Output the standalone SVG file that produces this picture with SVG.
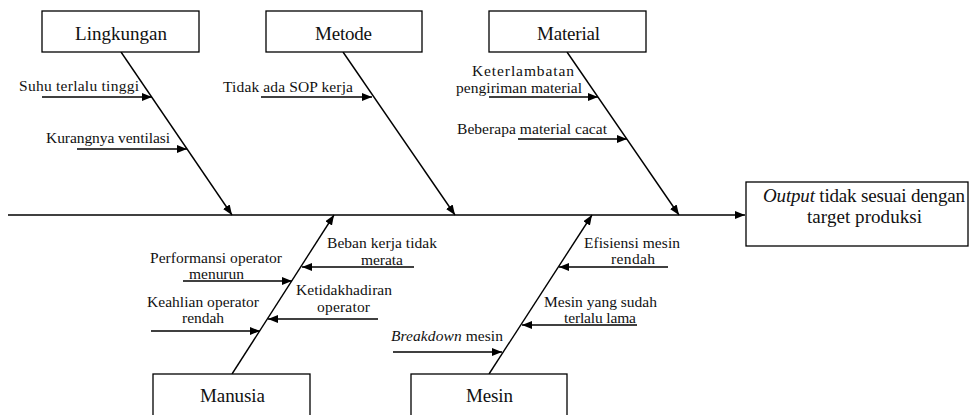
<svg xmlns="http://www.w3.org/2000/svg" width="970" height="415" viewBox="0 0 970 415">
<style>
.box{fill:#fff;stroke:#000;stroke-width:1.3}
.ln{stroke:#000;stroke-width:1.4;fill:none;marker-end:url(#ah)}
text{font-family:"Liberation Serif","Times New Roman",serif;fill:#111}
.lb{font-size:19px}
.sm{font-size:15.5px}
.it{font-style:italic}
</style>
<defs>
<marker id="ah" markerUnits="userSpaceOnUse" markerWidth="11" markerHeight="9" refX="10" refY="4" orient="auto"><path d="M0,0 L10,4 L0,8 z" fill="#000"/></marker>
</defs>
<rect width="970" height="415" fill="#fff"/>
<g id="connectors">
<line class="ln" x1="8" y1="215" x2="745" y2="215"/>
<line class="ln" x1="121" y1="52" x2="232" y2="215"/>
<line class="ln" x1="343" y1="52" x2="455" y2="215"/>
<line class="ln" x1="567" y1="52" x2="679" y2="215"/>
<line class="ln" x1="232" y1="374" x2="334" y2="215"/>
<line class="ln" x1="489" y1="374" x2="592" y2="215"/>
<line class="ln" x1="42" y1="97" x2="152" y2="97"/>
<line class="ln" x1="77" y1="149" x2="187" y2="149"/>
<line class="ln" x1="261" y1="97" x2="372" y2="97"/>
<line class="ln" x1="489" y1="97" x2="598" y2="97"/>
<line class="ln" x1="518" y1="139" x2="627" y2="139"/>
<line class="ln" x1="183" y1="281" x2="292" y2="281"/>
<line class="ln" x1="151" y1="331" x2="260" y2="331"/>
<line class="ln" x1="414" y1="267" x2="302" y2="267"/>
<line class="ln" x1="378" y1="319" x2="268" y2="319"/>
<line class="ln" x1="393" y1="352" x2="502" y2="352"/>
<line class="ln" x1="668" y1="267" x2="559" y2="267"/>
<line class="ln" x1="637" y1="325" x2="522" y2="325"/>
</g>
<g id="lingkungan">
<rect class="box" x="42" y="11" width="157" height="41"/>
<text class="lb" x="75" y="40" textLength="92">Lingkungan</text>
<text class="sm" x="19" y="91" textLength="120">Suhu terlalu tinggi</text>
<text class="sm" x="46" y="143" textLength="124">Kurangnya ventilasi</text>
</g>
<g id="metode">
<rect class="box" x="266" y="11" width="156" height="41"/>
<text class="lb" x="315" y="40" textLength="57">Metode</text>
<text class="sm" x="223" y="92" textLength="130">Tidak ada SOP kerja</text>
</g>
<g id="material">
<rect class="box" x="489" y="11" width="157" height="41"/>
<text class="lb" x="537" y="40" textLength="63">Material</text>
<text class="sm" x="472" y="76" textLength="102">Keterlambatan</text>
<text class="sm" x="456" y="93" textLength="126">pengiriman material</text>
<text class="sm" x="457" y="134" textLength="150">Beberapa material cacat</text>
</g>
<g id="manusia">
<rect class="box" x="153" y="374" width="157" height="50"/>
<text class="lb" x="200" y="402" textLength="65">Manusia</text>
<text class="sm" x="150" y="263" textLength="132">Performansi operator</text>
<text class="sm" x="189" y="279" textLength="55">menurun</text>
<text class="sm" x="147" y="307" textLength="112">Keahlian operator</text>
<text class="sm" x="182" y="323" textLength="42">rendah</text>
<text class="sm" x="327" y="248" textLength="110">Beban kerja tidak</text>
<text class="sm" x="361" y="265" textLength="42">merata</text>
<text class="sm" x="296" y="295" textLength="96">Ketidakhadiran</text>
<text class="sm" x="317" y="312" textLength="53">operator</text>
</g>
<g id="mesin">
<rect class="box" x="411" y="374" width="156" height="50"/>
<text class="lb" x="466" y="402" textLength="47">Mesin</text>
<text class="sm" x="391" y="341" textLength="112"><tspan class="it">Breakdown</tspan> mesin</text>
<text class="sm" x="584" y="248" textLength="96">Efisiensi mesin</text>
<text class="sm" x="611" y="264" textLength="44">rendah</text>
<text class="sm" x="544" y="307" textLength="113">Mesin yang sudah</text>
<text class="sm" x="564" y="323" textLength="72">terlalu lama</text>
</g>
<g id="output">
<rect class="box" x="746" y="182" width="222" height="64"/>
<text class="lb" x="763" y="202" textLength="202"><tspan class="it">Output</tspan> tidak sesuai dengan</text>
<text class="lb" x="807" y="223" textLength="115">target produksi</text>
</g>
</svg>
